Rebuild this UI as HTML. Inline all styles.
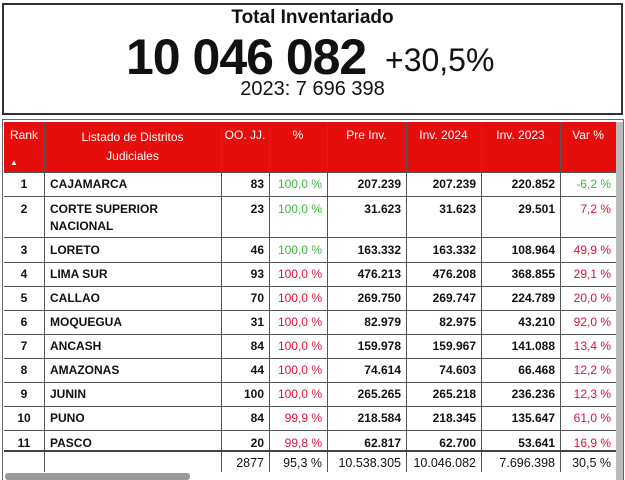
<!DOCTYPE html>
<html><head><meta charset="utf-8"><style>
body{margin:0;width:625px;height:480px;background:#fff;overflow:hidden;position:relative;font-family:"Liberation Sans",sans-serif}
.a{position:absolute}
#top{left:2px;top:3px;width:617px;height:108px;border:2px solid #333;}
.hd{background:#e60d0d;color:#fff;font-size:12px;text-align:center}
.c{position:absolute;font-size:12px;font-weight:bold;color:#111;white-space:nowrap}
.g{color:#3cb83c;font-weight:normal}
.r{color:#e0103a;font-weight:normal}
.vl{position:absolute;width:1px;background:#555;top:122px;height:350px}
.hl{position:absolute;height:1px;background:#555;left:4px;width:612px}
</style></head><body>
<div id="top" class="a"></div>
<div class="a" style="left:0;width:625px;top:7px;text-align:center;font-size:19px;font-weight:bold;color:#111">Total Inventariado</div>
<div class="a" style="left:126px;top:28px;font-size:50px;font-weight:bold;color:#111;letter-spacing:-1px">10 046 082</div>
<div class="a" style="left:385px;top:42px;font-size:32px;color:#111">+30,5%</div>
<div class="a" style="left:0;width:625px;top:78px;text-align:center;font-size:20px;color:#111">2023: 7 696 398</div>
<div class="a" style="left:2px;top:119px;width:620px;height:360px;border:1px solid #666;border-bottom:none"></div>
<div class="a hd" style="left:4px;top:122px;width:612px;height:50px"></div>
<div class="a" style="left:616px;top:122px;width:7px;height:358px;background:#bbb"></div>
<div class="a" style="left:5px;top:473px;width:185px;height:7px;background:#999;border-radius:3px"></div>
<div class="a hd" style="left:4px;top:128px;width:40px">Rank</div>
<div class="a" style="left:10px;top:158px;color:#fff;font-size:8px">▲</div>
<div class="a hd" style="left:44px;top:128px;width:177px;line-height:19px">Listado de Distritos<br>Judiciales</div>
<div class="a hd" style="left:221px;top:128px;width:48px">OO. JJ.</div>
<div class="a hd" style="left:269px;top:128px;width:58px">%</div>
<div class="a hd" style="left:327px;top:128px;width:79px">Pre Inv.</div>
<div class="a hd" style="left:406px;top:128px;width:75px">Inv. 2024</div>
<div class="a hd" style="left:481px;top:128px;width:79px">Inv. 2023</div>
<div class="a hd" style="left:560px;top:128px;width:56px">Var %</div>
<div class="vl" style="left:44px"></div><div class="vl" style="left:221px"></div><div class="vl" style="left:269px"></div><div class="vl" style="left:327px"></div><div class="vl" style="left:406px"></div><div class="vl" style="left:481px"></div><div class="vl" style="left:560px"></div>
<div id="rows"></div>
<script>
var d=[["1","CAJAMARCA","83","100,0 %","207.239","207.239","220.852","-6,2 %","g","g"],
["2","CORTE SUPERIOR","23","100,0 %","31.623","31.623","29.501","7,2 %","g","r"],
["3","LORETO","46","100,0 %","163.332","163.332","108.964","49,9 %","g","r"],
["4","LIMA SUR","93","100,0 %","476.213","476.208","368.855","29,1 %","r","r"],
["5","CALLAO","70","100,0 %","269.750","269.747","224.789","20,0 %","r","r"],
["6","MOQUEGUA","31","100,0 %","82.979","82.975","43.210","92,0 %","r","r"],
["7","ANCASH","84","100,0 %","159.978","159.967","141.088","13,4 %","r","r"],
["8","AMAZONAS","44","100,0 %","74.614","74.603","66.468","12,2 %","r","r"],
["9","JUNIN","100","100,0 %","265.265","265.218","236.236","12,3 %","r","r"],
["10","PUNO","84","99,9 %","218.584","218.345","135.647","61,0 %","r","r"],
["11","PASCO","20","99,8 %","62.817","62.700","53.641","16,9 %","r","r"]];
var ys=[177,202,243,267,291,315,339,363,387,411,436];
var bs=[172,196,237,262,286,310,334,358,382,406,430];
var R=[269,327,406,481,560,616];
var h="";
bs.forEach(function(b){h+='<div class="hl" style="top:'+b+'px"></div>';});
h+='<div class="hl" style="top:450px;height:2px;background:#444"></div>';
d.forEach(function(r,i){var y=ys[i];
h+='<div class="c" style="left:4px;width:40px;text-align:center;top:'+y+'px">'+r[0]+'</div>';
h+='<div class="c" style="left:50px;top:'+y+'px">'+r[1]+'</div>';
if(i==1)h+='<div class="c" style="left:50px;top:'+(y+17)+'px">NACIONAL</div>';
for(var k=2;k<8;k++){var cl=k==3?r[8]:(k==7?r[9]:"");
h+='<div class="c '+cl+'" style="right:'+(625-R[k-2]+5)+'px;top:'+y+'px">'+r[k]+'</div>';}
});
var f=["2877","95,3 %","10.538.305","10.046.082","7.696.398","30,5 %"];
f.forEach(function(v,k){h+='<div class="c" style="font-weight:normal;font-size:12.5px;right:'+(625-R[k]+5)+'px;top:456px">'+v+'</div>';});
document.getElementById("rows").innerHTML=h;
</script>
</body></html>
